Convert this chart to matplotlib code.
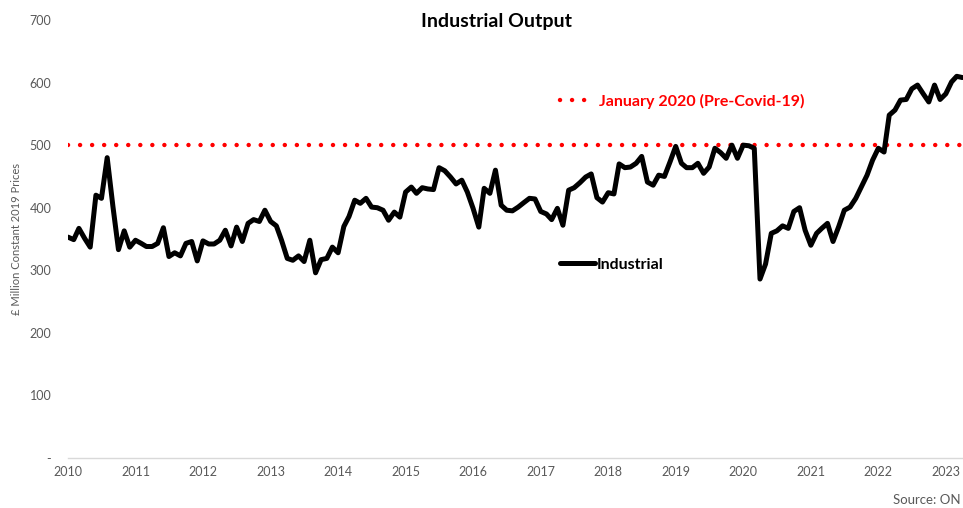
import matplotlib
matplotlib.use("Agg")
import matplotlib.pyplot as plt
import matplotlib.dates as mdates
from matplotlib.lines import Line2D
import pandas as pd

plt.rcParams['font.family'] = ['Lato', 'DejaVu Sans']

# monthly industrial output, £m constant 2019 prices, Jan 2010 - Apr 2023
v2010 = [353, 349, 367, 351, 337, 420, 415, 480, 402, 333, 363, 337]
v2011 = [348, 343, 338, 338, 343, 368, 322, 328, 323, 343, 346, 315]
v2012 = [347, 342, 342, 348, 364, 339, 369, 346, 375, 381, 378, 396]
v2013 = [378, 371, 348, 319, 316, 323, 314, 348, 296, 317, 319, 337]
v2014 = [328, 370, 386, 412, 407, 415, 401, 400, 396, 380, 393, 385]
v2015 = [425, 433, 423, 432, 430, 429, 464, 459, 449, 438, 444, 425]
v2016 = [399, 369, 431, 423, 460, 404, 396, 395, 401, 408, 415, 414]
v2017 = [394, 390, 381, 399, 372, 428, 432, 440, 449, 454, 416, 409]
v2018 = [424, 422, 470, 464, 465, 471, 482, 441, 436, 452, 450, 473]
v2019 = [498, 471, 464, 464, 471, 455, 465, 495, 488, 479, 500, 479]
v2020 = [500, 499, 495, 286, 310, 359, 363, 371, 367, 394, 400, 364]
v2021 = [340, 359, 367, 375, 346, 370, 396, 401, 415, 433, 452, 476]
v2022 = [495, 489, 548, 556, 572, 573, 590, 596, 582, 569, 596, 573]
v2023 = [582, 601, 610, 608]

industrial = (v2010 + v2011 + v2012 + v2013 + v2014 + v2015 + v2016 +
              v2017 + v2018 + v2019 + v2020 + v2021 + v2022 + v2023)
months = pd.date_range("2010-01-01", periods=len(industrial), freq="MS")
pre_covid = 500

y_ticks = [0, 100, 200, 300, 400, 500, 600, 700]
y_labels = ["-", "100", "200", "300", "400", "500", "600", "700"]

grey = "#595959"

fig = plt.figure(figsize=(9.63, 5.08), dpi=100)
ax = fig.add_axes([68/963, 50/508, 1 - 68/963, 438/508])

ax.axhline(pre_covid, color="#ff0000", lw=3.2, linestyle=(0, (0.01, 2.7)),
           dash_capstyle="round", zorder=2)
ax.plot(months, industrial, color="black", lw=3.6, solid_joinstyle="round",
        solid_capstyle="round", zorder=3)

ax.set_ylim(0, 700)
ax.set_xlim(months[0], months[-1] + pd.Timedelta(days=3))
ax.set_yticks(y_ticks)
ax.set_yticklabels(y_labels)
ax.xaxis.set_major_locator(mdates.YearLocator())
ax.xaxis.set_major_formatter(mdates.DateFormatter("%Y"))
ax.tick_params(axis="y", length=0, pad=12, labelsize=9, labelcolor=grey)
ax.tick_params(axis="x", length=0, pad=6, labelsize=9, labelcolor=grey)
for s in ["top", "right", "left"]:
    ax.spines[s].set_visible(False)
ax.spines["bottom"].set_color("#d9d9d9")
ax.spines["bottom"].set_linewidth(1)

fig.text(496.5/963, 1 - 21/508, "Industrial Output", ha="center", va="center",
         fontsize=14, fontweight="bold")
fig.text(17/963, 1 - 239/508, "£ Million Constant 2019 Prices", rotation=90,
         ha="center", va="center", fontsize=8, color=grey)
fig.text(961/963, 1 - 500/508, "Source: ON", ha="right", va="center",
         fontsize=9.5, color=grey)

h1 = Line2D([], [], color="#ff0000", lw=3.2, linestyle=(0, (0.01, 2.7)),
            dash_capstyle="round")
h2 = Line2D([], [], color="black", lw=3.6, solid_capstyle="round")
leg1 = fig.legend([h1], ["January 2020 (Pre-Covid-19)"], loc="center left",
                  bbox_to_anchor=(560/963, 1 - 101/508), frameon=False,
                  borderpad=0, borderaxespad=0, handlelength=1.9,
                  handletextpad=0.55, prop={"weight": "bold", "size": 11.5})
for t in leg1.get_texts():
    t.set_color("#ff0000")
leg2 = fig.legend([h2], ["Industrial"], loc="center left",
                  bbox_to_anchor=(560/963, 1 - 265/508), frameon=False,
                  borderpad=0, borderaxespad=0, handlelength=2.2,
                  handletextpad=0.1, prop={"weight": "bold", "size": 11.5})

fig.savefig("out.png", dpi=100)
